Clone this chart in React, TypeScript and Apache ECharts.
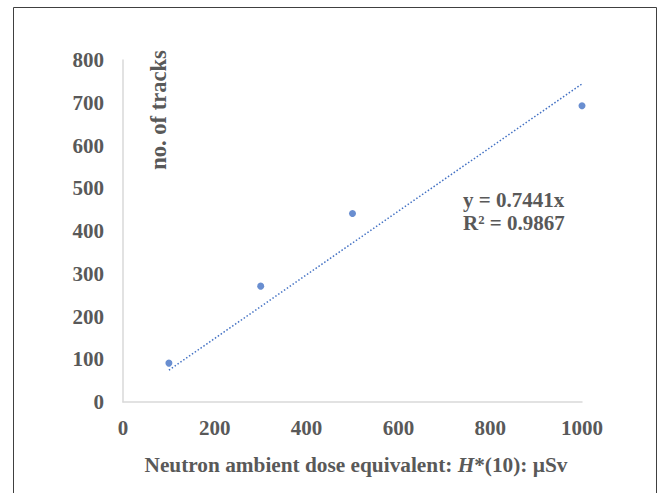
import React, { useEffect, useRef } from "react";
import * as echarts from "echarts";

const doseX = [100, 300, 500, 1000];
const tracksY = [91, 271, 441, 693];
const trendX = [100, 1000];
const trendY = [74.41, 744.1];
const equationLines = ["y = 0.7441x", "R² = 0.9867"];
const yName = "no. of tracks";

export default function App() {
  const ref = useRef<HTMLDivElement>(null);
  useEffect(() => {
    if (!ref.current) return;
    const chart = echarts.init(ref.current, null, { renderer: "svg" });
    const font = "'Liberation Serif', 'Times New Roman', serif";
    const txt = "#595959";
    chart.setOption({
      animation: false,
      grid: { left: 123, right: 77, top: 60, bottom: 91 },
      xAxis: {
        type: "value",
        min: 0,
        max: 1000,
        interval: 200,
        axisLine: { show: true, lineStyle: { color: "#d9d9d9", width: 1.5 } },
        axisTick: { show: false },
        splitLine: { show: false },
        axisLabel: {
          color: txt,
          fontFamily: font,
          fontWeight: "bold",
          fontSize: 21,
          margin: 15,
          formatter: (v: number) => String(v),
        },
      },
      yAxis: {
        type: "value",
        min: 0,
        max: 800,
        interval: 100,
        axisLine: { show: true, lineStyle: { color: "#d9d9d9", width: 1.5 } },
        axisTick: { show: false },
        splitLine: { show: false },
        axisLabel: { color: txt, fontFamily: font, fontWeight: "bold", fontSize: 21, margin: 19 },
      },
      series: [
        {
          type: "line",
          data: trendX.map((x, i) => [x, trendY[i]]),
          showSymbol: false,
          symbol: "none",
          lineStyle: { color: "#4472C4", width: 1.5, type: [1.5, 2] },
          z: 1,
        },
        {
          type: "scatter",
          data: doseX.map((x, i) => [x, tracksY[i]]),
          symbol: "circle",
          symbolSize: 7,
          itemStyle: { color: "#4472C4" },
          z: 2,
        },
      ],
      graphic: [
        {
          type: "rect",
          shape: { x: 13.5, y: 7.5, width: 643, height: 500 },
          style: { fill: "none", stroke: "#404040", lineWidth: 1 },
          silent: true,
        },
        {
          type: "text",
          x: 158,
          y: 110,
          rotation: Math.PI / 2,
          style: {
            text: yName,
            fill: txt,
            font: `bold 22.5px ${font}`,
            align: "center",
            verticalAlign: "middle",
          },
        },
        {
          type: "text",
          x: 463,
          y: 200,
          style: {
            text: equationLines[0],
            fill: txt,
            font: `bold 21px ${font}`,
            align: "left",
            verticalAlign: "middle",
          },
        },
        {
          type: "text",
          x: 463,
          y: 223,
          style: {
            text: equationLines[1],
            fill: txt,
            font: `bold 21px ${font}`,
            align: "left",
            verticalAlign: "middle",
          },
        },
        {
          type: "text",
          x: 356,
          y: 465,
          style: {
            text: "{a|Neutron ambient dose equivalent: }{b|H}{a|*(10): µSv}",
            align: "center",
            verticalAlign: "middle",
            rich: {
              a: { fill: txt, fontFamily: font, fontWeight: "bold", fontSize: 21.3 },
              b: { fill: txt, fontFamily: font, fontWeight: "bold", fontStyle: "italic", fontSize: 21.3 },
            },
          },
        },
      ],
    });
    return () => chart.dispose();
  }, []);
  return (
    <div
      ref={ref}
      style={{ position: "fixed", left: 0, top: 0, width: 659, height: 493, background: "#fff" }}
    />
  );
}
